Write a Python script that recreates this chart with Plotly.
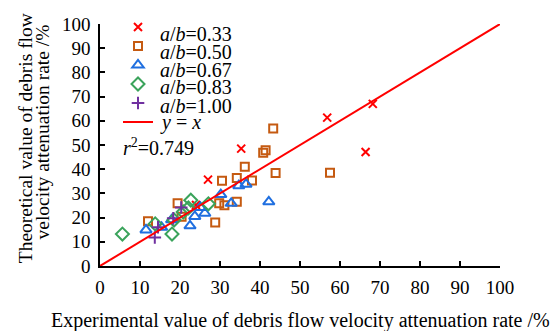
import plotly.graph_objects as go

# a/b = 0.33
x033 = [24.0, 27.0, 35.3, 56.8, 66.4, 68.2]
y033 = [25.2, 35.7, 48.5, 61.3, 47.1, 67.0]
# a/b = 0.50
x050 = [12.0, 19.4, 20.4, 28.8, 29.8, 31.1, 34.2, 30.5, 34.2, 36.2, 38.0, 40.8, 41.4, 43.3, 43.9, 57.5]
y050 = [18.5, 25.9, 20.4, 18.0, 25.9, 25.1, 26.5, 35.2, 36.4, 41.0, 35.3, 46.8, 47.8, 56.8, 38.4, 38.5]
# a/b = 0.67
x067 = [11.5, 15.4, 17.9, 22.5, 23.7, 25.1, 26.2, 30.2, 32.8, 34.7, 36.5, 42.2]
y067 = [14.9, 16.0, 19.1, 16.6, 20.5, 24.2, 21.8, 29.5, 25.9, 33.2, 33.8, 26.5]
# a/b = 0.83
x083 = [5.6, 13.8, 18.0, 18.5, 20.8, 22.1, 22.7, 27.1]
y083 = [13.2, 17.4, 13.2, 19.0, 22.3, 24.0, 27.2, 25.7]
# a/b = 1.00
x100 = [13.7, 14.5, 18.3, 20.3]
y100 = [11.8, 16.0, 19.7, 24.2]
# y = x reference line
xline = [0, 100]
yline = [0, 100]

legend_labels = ["<i>a</i>/<i>b</i>=0.33", "<i>a</i>/<i>b</i>=0.50", "<i>a</i>/<i>b</i>=0.67",
                 "<i>a</i>/<i>b</i>=0.83", "<i>a</i>/<i>b</i>=1.00", "<i>y</i> = <i>x</i>"]

series = [
    (x033, y033, "x-thin", "#ff0000", 8),
    (x050, y050, "square-open", "#c55a11", 8),
    (x067, y067, "triangle-up-open", "#1f6fe0", 10),
    (x083, y083, "diamond-open", "#3aa35b", 10),
    (x100, y100, "cross-thin", "#7030a0", 9),
]

FONT = "Liberation Serif"
TXT = 20
fig = go.Figure()
for i, (xs, ys, sym, col, sz) in enumerate(series):
    fig.add_trace(go.Scatter(
        x=xs, y=ys, mode="markers", name=" " * (i + 1),
        marker=dict(symbol=sym, size=sz, color=col, line=dict(color=col, width=2)),
    ))
fig.add_trace(go.Scatter(
    x=xline, y=yline, mode="lines", name=" " * 7,
    line=dict(color="#ff0000", width=2),
))

axis_common = dict(
    range=[0, 100], dtick=10, showgrid=False, zeroline=False,
    showline=True, linecolor="black", linewidth=1.5,
    ticks="inside", ticklen=5, tickwidth=1.5, tickcolor="black",
    tickfont=dict(family=FONT, size=19, color="black"),
    mirror=False,
)
fig.update_xaxes(**axis_common, ticklabelstandoff=3)
fig.update_yaxes(**axis_common, ticklabelstandoff=4)

def px_to_paper_y(py):
    return (266 - py) / 252

def px_to_paper_x(px):
    return (px - 100) / 400

# legend texts
legend_rows = [24, 43, 62, 80, 99, 117]
for lab, py in zip(legend_labels, legend_rows):
    fig.add_annotation(x=px_to_paper_x(158), y=px_to_paper_y(py), xref="paper", yref="paper",
                       xanchor="left", yanchor="middle", text=lab, showarrow=False,
                       font=dict(family=FONT, size=TXT, color="black"))

fig.add_annotation(x=px_to_paper_x(121), y=px_to_paper_y(142), xref="paper", yref="paper",
                   xanchor="left", yanchor="middle",
                   text="<i>r</i><sup>2</sup>=0.749", showarrow=False,
                   font=dict(family=FONT, size=TXT, color="black"))

# axis titles
fig.add_annotation(x=0.5, y=px_to_paper_y(323), xref="paper", yref="paper",
                   xanchor="center", yanchor="middle", showarrow=False,
                   text="Experimental value of debris flow velocity attenuation rate /%",
                   font=dict(family=FONT, size=TXT, color="black"))
fig.add_annotation(x=px_to_paper_x(25), y=px_to_paper_y(133), xref="paper", yref="paper",
                   xanchor="center", yanchor="middle", showarrow=False, textangle=-90,
                   text="Theoretical value of debris flow",
                   font=dict(family=FONT, size=19.5, color="black"))
fig.add_annotation(x=px_to_paper_x(43), y=px_to_paper_y(127), xref="paper", yref="paper",
                   xanchor="center", yanchor="middle", showarrow=False, textangle=-90,
                   text="velocity attenuation rate /%",
                   font=dict(family=FONT, size=19.5, color="black"))

fig.update_layout(
    width=557, height=331,
    margin=dict(l=100, r=57, t=14, b=65),
    paper_bgcolor="white", plot_bgcolor="white",
    font=dict(family=FONT, color="black"),
    legend=dict(x=px_to_paper_x(118), y=px_to_paper_y(2), xanchor="left", yanchor="top",
                font=dict(family=FONT, size=12, color="black"),
                bgcolor="rgba(0,0,0,0)", tracegroupgap=0, borderwidth=0),
    showlegend=True,
)
fig.write_html("out.html")
